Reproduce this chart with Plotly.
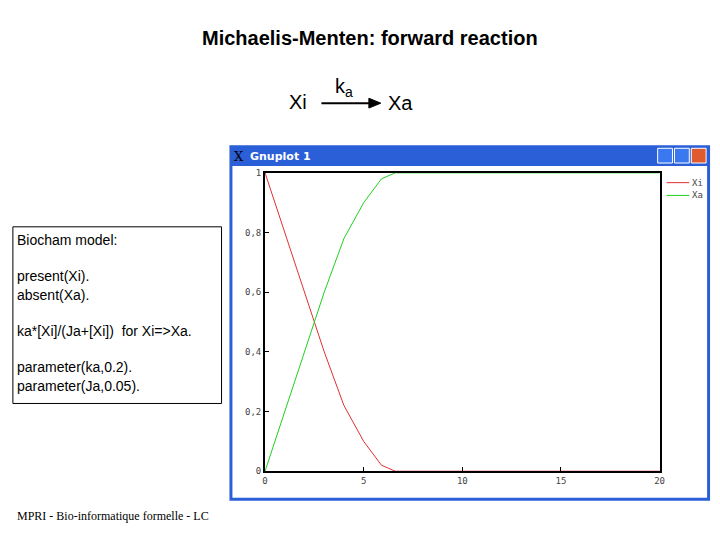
import plotly.graph_objects as go

t = [0, 1, 2, 3, 4, 5, 5.9, 6.6, 20]
xi = [1, 0.8, 0.6, 0.4, 0.22, 0.1, 0.02, 0, 0]
xa = [0, 0.2, 0.4, 0.6, 0.78, 0.9, 0.98, 1, 1]
ytick_vals = [0, 0.2, 0.4, 0.6, 0.8, 1]
ytick_text = ["0", "0,2", "0,4", "0,6", "0,8", "1"]
xtick_vals = [0, 5, 10, 15, 20]

W, H = 720, 540
def px(x): return x / W
def py(y): return 1 - y / H

fig = go.Figure()
fig.add_trace(go.Scatter(x=t, y=xi, mode="lines", line=dict(color="#e03030", width=1), showlegend=False))
fig.add_trace(go.Scatter(x=t, y=xa, mode="lines", line=dict(color="#20d020", width=1), showlegend=False))

shapes = [
    dict(type="rect", xref="paper", yref="paper", x0=px(229), x1=px(715), y0=py(505), y1=py(143),
         fillcolor="#2a5fd8", line=dict(width=0), layer="below"),
    dict(type="rect", xref="paper", yref="paper", x0=px(232), x1=px(712), y0=py(502), y1=py(164),
         fillcolor="white", line=dict(width=0), layer="below"),
    dict(type="rect", xref="paper", yref="paper", x0=px(662), x1=px(677), y0=py(161), y1=py(146),
         fillcolor="#3a78f0", line=dict(color="white", width=1)),
    dict(type="rect", xref="paper", yref="paper", x0=px(679), x1=px(694), y0=py(161), y1=py(146),
         fillcolor="#3a78f0", line=dict(color="white", width=1)),
    dict(type="rect", xref="paper", yref="paper", x0=px(696), x1=px(711), y0=py(161), y1=py(146),
         fillcolor="#e05a30", line=dict(color="white", width=1)),
    dict(type="line", xref="paper", yref="paper", x0=px(671), x1=px(694), y0=py(181), y1=py(181),
         line=dict(color="#e03030", width=1)),
    dict(type="line", xref="paper", yref="paper", x0=px(671), x1=px(694), y0=py(194), y1=py(194),
         line=dict(color="#20d020", width=1)),
    dict(type="rect", xref="paper", yref="paper", x0=px(10), x1=px(221), y0=py(406), y1=py(226),
         fillcolor="white", line=dict(color="black", width=1)),
    dict(type="line", xref="paper", yref="paper", x0=px(322), x1=px(372), y0=py(100), y1=py(100),
         line=dict(color="black", width=2)),
    dict(type="path", xref="paper", yref="paper",
         path=f"M {px(370)},{py(95)} L {px(382)},{py(100)} L {px(370)},{py(105)} Z",
         fillcolor="black", line=dict(color="black", width=1)),
]

ann = [
    dict(x=px(371), y=py(34), text="<b>Michaelis-Menten: forward reaction</b>", font=dict(size=20, family="Liberation Sans")),
    dict(x=px(298), y=py(99), text="Xi", font=dict(size=20, family="Liberation Sans")),
    dict(x=px(345), y=py(84), text="k<sub>a</sub>", font=dict(size=20, family="Liberation Sans")),
    dict(x=px(402), y=py(100), text="Xa", font=dict(size=20, family="Liberation Sans")),
    dict(x=px(248), y=py(154), xanchor="left", text="<b>Gnuplot 1</b>", font=dict(size=11, color="white", family="DejaVu Sans")),
    dict(x=px(239), y=py(154), text="X", font=dict(size=13, color="black", family="DejaVu Serif")),
    dict(x=px(702), y=py(181), text="Xi", font=dict(size=9, color="#444", family="DejaVu Sans Mono")),
    dict(x=px(702), y=py(194), text="Xa", font=dict(size=9, color="#444", family="DejaVu Sans Mono")),
    dict(x=px(12), y=py(314), xanchor="left", align="left",
         text="Biocham model:<br><br>present(Xi).<br>absent(Xa).<br><br>ka*[Xi]/(Ja+[Xi])  for Xi=>Xa.<br><br>parameter(ka,0.2).<br>parameter(Ja,0.05).",
         font=dict(size=14, family="Liberation Sans")),
    dict(x=px(12), y=py(521), xanchor="left", text="MPRI - Bio-informatique formelle - LC",
         font=dict(size=12, family="Liberation Serif")),
]
for a in ann:
    a.setdefault("xanchor", "center")
    a["font"].setdefault("color", "black")
    a.update(xref="paper", yref="paper", showarrow=False, yanchor="middle")

axis_common = dict(showgrid=False, zeroline=False, showline=True, linecolor="black", linewidth=2,
                   mirror=True, ticks="inside", ticklen=4, tickcolor="black",
                   tickfont=dict(size=9, color="#444", family="DejaVu Sans Mono"))
fig.update_layout(
    width=W, height=H, margin=dict(l=0, r=0, t=0, b=0),
    paper_bgcolor="white", plot_bgcolor="white", font=dict(color="black"),
    xaxis=dict(domain=[px(265), px(664)], range=[0, 20], tickvals=xtick_vals, **axis_common),
    yaxis=dict(domain=[py(475), py(171)], range=[0, 1], tickvals=ytick_vals, ticktext=ytick_text, **axis_common),
    shapes=shapes, annotations=ann,
)
fig.write_html("out.html", config={"displayModeBar": False},
               post_script="document.body.style.margin='0';document.body.style.overflow='hidden';")
